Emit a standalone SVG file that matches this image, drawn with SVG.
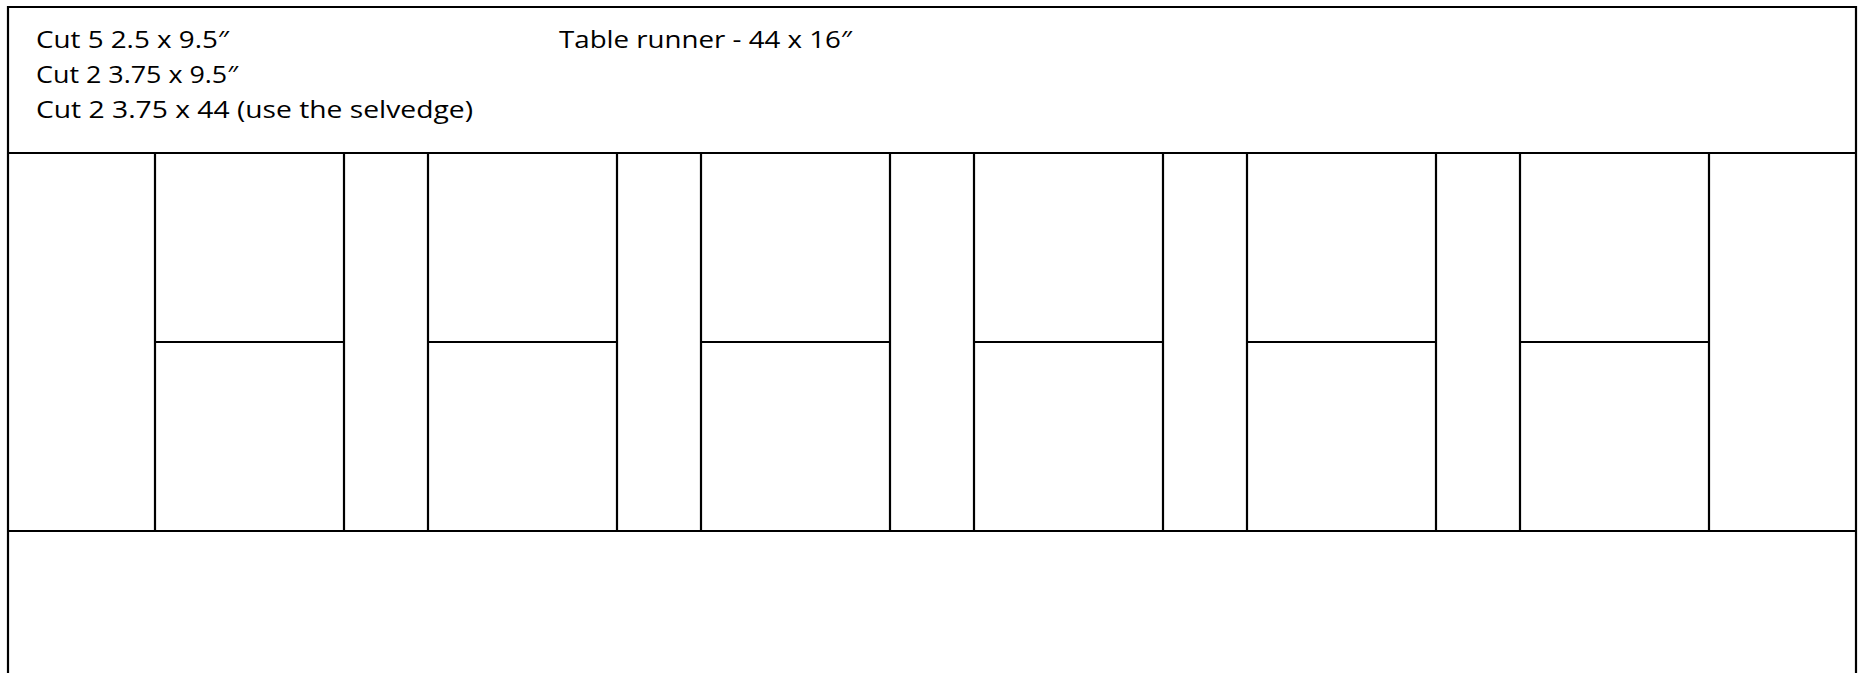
<svg xmlns="http://www.w3.org/2000/svg" width="1864" height="673" viewBox="0 0 1864 673">
<style>
.ln{stroke:#000;stroke-width:2.2;fill:none}
.t{font-family:"Open Sans","Liberation Sans",sans-serif;font-size:24.5px;fill:#000}
</style>
<rect x="0" y="0" width="1864" height="673" fill="#fff"/>
<g id="outline">
<path class="ln" d="M8,673 V7 H1856 V673"/>
<line class="ln" x1="8" y1="153" x2="1856" y2="153"/>
<line class="ln" x1="8" y1="531" x2="1856" y2="531"/>
</g>
<g id="notes">
<text class="t" x="36" y="48" textLength="193" lengthAdjust="spacingAndGlyphs">Cut 5 2.5 x 9.5″</text>
<text class="t" x="36" y="83" textLength="202" lengthAdjust="spacingAndGlyphs">Cut 2 3.75 x 9.5″</text>
<text class="t" x="36" y="118" textLength="437" lengthAdjust="spacingAndGlyphs">Cut 2 3.75 x 44 (use the selvedge)</text>
</g>
<g id="title">
<text class="t" x="559" y="48" textLength="293" lengthAdjust="spacingAndGlyphs">Table runner - 44 x 16″</text>
</g>
<g id="grid">
<g class="ln">
<line x1="155" y1="153" x2="155" y2="531"/>
<line x1="344" y1="153" x2="344" y2="531"/>
<line x1="428" y1="153" x2="428" y2="531"/>
<line x1="617" y1="153" x2="617" y2="531"/>
<line x1="701" y1="153" x2="701" y2="531"/>
<line x1="890" y1="153" x2="890" y2="531"/>
<line x1="974" y1="153" x2="974" y2="531"/>
<line x1="1163" y1="153" x2="1163" y2="531"/>
<line x1="1247" y1="153" x2="1247" y2="531"/>
<line x1="1436" y1="153" x2="1436" y2="531"/>
<line x1="1520" y1="153" x2="1520" y2="531"/>
<line x1="1709" y1="153" x2="1709" y2="531"/>
<line x1="155" y1="342" x2="344" y2="342"/>
<line x1="428" y1="342" x2="617" y2="342"/>
<line x1="701" y1="342" x2="890" y2="342"/>
<line x1="974" y1="342" x2="1163" y2="342"/>
<line x1="1247" y1="342" x2="1436" y2="342"/>
<line x1="1520" y1="342" x2="1709" y2="342"/>
</g>
</g>
</svg>
